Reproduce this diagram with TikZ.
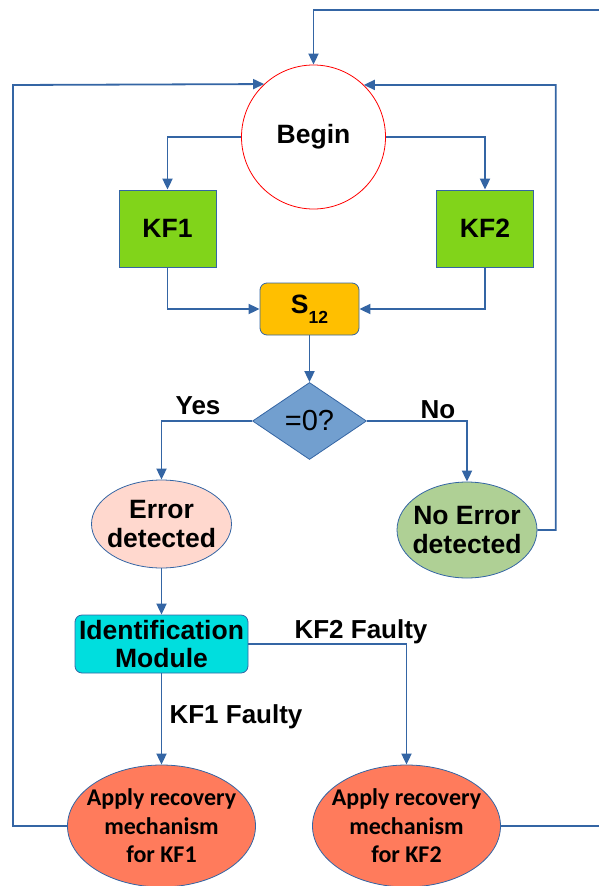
\documentclass[tikz,border=0pt]{standalone}
\usepackage{fontspec}
\setmainfont{Liberation Sans}
\newfontfamily\recfont{Carlito}
\usetikzlibrary{shapes.geometric,arrows.meta}
\definecolor{flowblue}{HTML}{3465A4}
\definecolor{beginred}{HTML}{FF0000}
\definecolor{kfgreen}{HTML}{81D41A}
\definecolor{sumorange}{HTML}{FFBF00}
\definecolor{testblue}{HTML}{729FCF}
\definecolor{errpink}{HTML}{FFD8CE}
\definecolor{okgreen}{HTML}{AFD095}
\definecolor{idcyan}{HTML}{00DEDE}
\definecolor{reccoral}{HTML}{FF7B5C}

\begin{document}
\begin{tikzpicture}[x=1pt,y=-1pt]
  \tikzset{
    txt/.style={font=\bfseries\fontsize{26.5}{29}\selectfont,text=black,align=center},
    box/.style={txt,draw=flowblue,line width=0.8pt,inner sep=0pt},
    oval/.style={box,ellipse,inner xsep=-12pt},
    rectbox/.style={box,rectangle},
    roundbox/.style={box,rectangle,rounded corners=7pt},
    rec/.style={oval,fill=reccoral,minimum width=188,minimum height=122,
      font=\recfont\bfseries\fontsize{24}{28.5}\selectfont},
    lbl/.style={font=\bfseries\fontsize{26}{29}\selectfont,text=black,anchor=base},
    flow/.style={flowblue,line width=1.8pt,->,>={Triangle[length=11pt,width=10pt]}},
  }
  \useasboundingbox (0,0) rectangle (599,886);
  \clip (0,0) rectangle (599,886);

  % Start and the two filters.
  \node[txt,circle,draw=beginred,line width=0.8pt,fill=white,minimum size=144]
    (begin) at (313.5,137) {Begin};
  \node[rectbox,fill=kfgreen,minimum width=97,minimum height=77] (kf1) at (167.5,228.5) {KF1};
  \node[rectbox,fill=kfgreen,minimum width=97,minimum height=77] (kf2) at (485,228.5) {KF2};

  % Residual and test.
  \node[roundbox,fill=sumorange,minimum width=99,minimum height=52] (s12) at (309.5,309)
    {S\raisebox{-10pt}{\fontsize{17.5}{17.5}\selectfont 12}};
  \node[diamond,draw=flowblue,line width=0.8pt,fill=testblue,inner sep=0pt,aspect=1.5,
    minimum width=114,minimum height=77,font=\fontsize{29}{30}\selectfont]
    (test) at (309.5,421) {=0?};

  % Outcomes.
  \node[oval,fill=errpink,minimum width=140,minimum height=88] (err) at (161.5,524) {Error\\detected};
  \node[oval,fill=okgreen,minimum width=140,minimum height=96] (noerr) at (467,530) {No Error\\detected};
  \node[roundbox,fill=idcyan,minimum width=173,minimum height=58,
    font=\bfseries\fontsize{26.5}{28}\selectfont] (ident) at (161.5,644) {Identification\\Module};
  \node[rec] (rec1) at (161.5,826) {Apply recovery\\mechanism\\for KF1};
  \node[rec] (rec2) at (406.5,826) {Apply recovery\\mechanism\\for KF2};

  % Edge labels.
  \node[lbl] (yes) at (198,414.5) {Yes};
  \node[lbl] (no) at (438,418) {No};
  \node[lbl] (kf1f) at (236,723) {KF1 Faulty};
  \node[lbl] (kf2f) at (361,638) {KF2 Faulty};

  % Feedback rails.
  \coordinate (leftrail) at (13,85);
  \coordinate (rightrail) at (555.7,85);
  \coordinate (toprail) at (612,10);

  % Main flow.
  \draw[flow] (begin.west) -| (kf1.north);
  \draw[flow] (begin.east) -| (kf2.north);
  \draw[flow] (kf1.south) |- (s12.west);
  \draw[flow] (kf2.south) |- (s12.east);
  \draw[flow] (s12.south) -- (test.north);
  \draw[flow] (test.west) -| (err.north);
  \draw[flow] (test.east) -| (noerr.north);
  \draw[flow] (err.south) -- (ident.north);
  \draw[flow] (ident.south) -- (rec1.north);
  \draw[flow] (ident.east) -| (rec2.north);

  % Back to the start.
  \draw[flow] (rec1.west) -| (leftrail) -- (begin.133.8);
  \draw[flow] (noerr.east) -| (rightrail) -- (begin.46.2);
  \draw[flow] (rec2.east) -| (toprail) -| (begin.north);
\end{tikzpicture}
\end{document}
